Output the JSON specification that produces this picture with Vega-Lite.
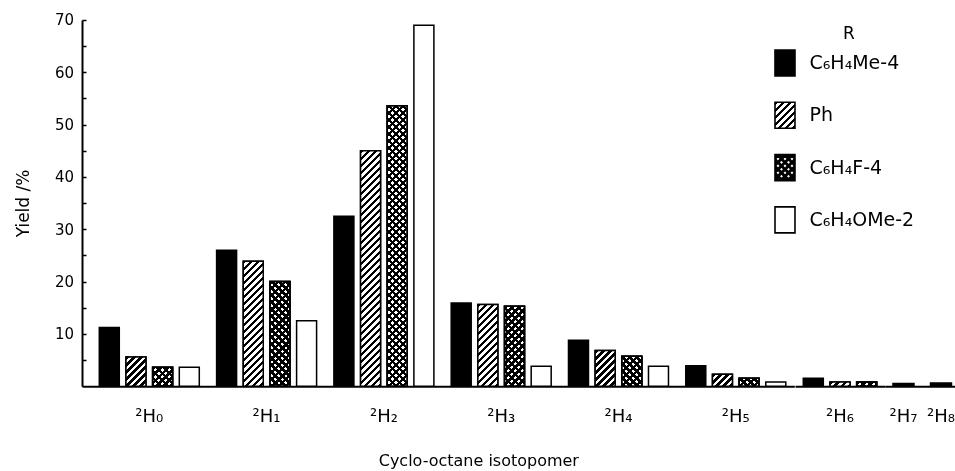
{
  "$schema": "https://vega.github.io/schema/vega-lite/v6.json",
  "autosize": {"type": "pad"},
  "padding": {"left": 14, "top": 12, "right": 0, "bottom": 0},
  "bounds": "flush",
  "spacing": 0,
  "background": "#ffffff",
  "params": [
    {"name": "hatch", "value": [
      {"offset":0,"color":"#000"},{"offset":0.0114,"color":"#000"},{"offset":0.0114,"color":"#fff"},{"offset":0.0227,"color":"#fff"},
      {"offset":0.0227,"color":"#000"},{"offset":0.0341,"color":"#000"},{"offset":0.0341,"color":"#fff"},{"offset":0.0455,"color":"#fff"},
      {"offset":0.0455,"color":"#000"},{"offset":0.0568,"color":"#000"},{"offset":0.0568,"color":"#fff"},{"offset":0.0682,"color":"#fff"},
      {"offset":0.0682,"color":"#000"},{"offset":0.0795,"color":"#000"},{"offset":0.0795,"color":"#fff"},{"offset":0.0909,"color":"#fff"},
      {"offset":0.0909,"color":"#000"},{"offset":0.1023,"color":"#000"},{"offset":0.1023,"color":"#fff"},{"offset":0.1136,"color":"#fff"},
      {"offset":0.1136,"color":"#000"},{"offset":0.125,"color":"#000"},{"offset":0.125,"color":"#fff"},{"offset":0.1364,"color":"#fff"},
      {"offset":0.1364,"color":"#000"},{"offset":0.1477,"color":"#000"},{"offset":0.1477,"color":"#fff"},{"offset":0.1591,"color":"#fff"},
      {"offset":0.1591,"color":"#000"},{"offset":0.1705,"color":"#000"},{"offset":0.1705,"color":"#fff"},{"offset":0.1818,"color":"#fff"},
      {"offset":0.1818,"color":"#000"},{"offset":0.1932,"color":"#000"},{"offset":0.1932,"color":"#fff"},{"offset":0.2045,"color":"#fff"},
      {"offset":0.2045,"color":"#000"},{"offset":0.2159,"color":"#000"},{"offset":0.2159,"color":"#fff"},{"offset":0.2273,"color":"#fff"},
      {"offset":0.2273,"color":"#000"},{"offset":0.2386,"color":"#000"},{"offset":0.2386,"color":"#fff"},{"offset":0.25,"color":"#fff"},
      {"offset":0.25,"color":"#000"},{"offset":0.2614,"color":"#000"},{"offset":0.2614,"color":"#fff"},{"offset":0.2727,"color":"#fff"},
      {"offset":0.2727,"color":"#000"},{"offset":0.2841,"color":"#000"},{"offset":0.2841,"color":"#fff"},{"offset":0.2955,"color":"#fff"},
      {"offset":0.2955,"color":"#000"},{"offset":0.3068,"color":"#000"},{"offset":0.3068,"color":"#fff"},{"offset":0.3182,"color":"#fff"},
      {"offset":0.3182,"color":"#000"},{"offset":0.3295,"color":"#000"},{"offset":0.3295,"color":"#fff"},{"offset":0.3409,"color":"#fff"},
      {"offset":0.3409,"color":"#000"},{"offset":0.3523,"color":"#000"},{"offset":0.3523,"color":"#fff"},{"offset":0.3636,"color":"#fff"},
      {"offset":0.3636,"color":"#000"},{"offset":0.375,"color":"#000"},{"offset":0.375,"color":"#fff"},{"offset":0.3864,"color":"#fff"},
      {"offset":0.3864,"color":"#000"},{"offset":0.3977,"color":"#000"},{"offset":0.3977,"color":"#fff"},{"offset":0.4091,"color":"#fff"},
      {"offset":0.4091,"color":"#000"},{"offset":0.4205,"color":"#000"},{"offset":0.4205,"color":"#fff"},{"offset":0.4318,"color":"#fff"},
      {"offset":0.4318,"color":"#000"},{"offset":0.4432,"color":"#000"},{"offset":0.4432,"color":"#fff"},{"offset":0.4545,"color":"#fff"},
      {"offset":0.4545,"color":"#000"},{"offset":0.4659,"color":"#000"},{"offset":0.4659,"color":"#fff"},{"offset":0.4773,"color":"#fff"},
      {"offset":0.4773,"color":"#000"},{"offset":0.4886,"color":"#000"},{"offset":0.4886,"color":"#fff"},{"offset":0.5,"color":"#fff"},
      {"offset":0.5,"color":"#000"},{"offset":0.5114,"color":"#000"},{"offset":0.5114,"color":"#fff"},{"offset":0.5227,"color":"#fff"},
      {"offset":0.5227,"color":"#000"},{"offset":0.5341,"color":"#000"},{"offset":0.5341,"color":"#fff"},{"offset":0.5455,"color":"#fff"},
      {"offset":0.5455,"color":"#000"},{"offset":0.5568,"color":"#000"},{"offset":0.5568,"color":"#fff"},{"offset":0.5682,"color":"#fff"},
      {"offset":0.5682,"color":"#000"},{"offset":0.5795,"color":"#000"},{"offset":0.5795,"color":"#fff"},{"offset":0.5909,"color":"#fff"},
      {"offset":0.5909,"color":"#000"},{"offset":0.6023,"color":"#000"},{"offset":0.6023,"color":"#fff"},{"offset":0.6136,"color":"#fff"},
      {"offset":0.6136,"color":"#000"},{"offset":0.625,"color":"#000"},{"offset":0.625,"color":"#fff"},{"offset":0.6364,"color":"#fff"},
      {"offset":0.6364,"color":"#000"},{"offset":0.6477,"color":"#000"},{"offset":0.6477,"color":"#fff"},{"offset":0.6591,"color":"#fff"},
      {"offset":0.6591,"color":"#000"},{"offset":0.6705,"color":"#000"},{"offset":0.6705,"color":"#fff"},{"offset":0.6818,"color":"#fff"},
      {"offset":0.6818,"color":"#000"},{"offset":0.6932,"color":"#000"},{"offset":0.6932,"color":"#fff"},{"offset":0.7045,"color":"#fff"},
      {"offset":0.7045,"color":"#000"},{"offset":0.7159,"color":"#000"},{"offset":0.7159,"color":"#fff"},{"offset":0.7273,"color":"#fff"},
      {"offset":0.7273,"color":"#000"},{"offset":0.7386,"color":"#000"},{"offset":0.7386,"color":"#fff"},{"offset":0.75,"color":"#fff"},
      {"offset":0.75,"color":"#000"},{"offset":0.7614,"color":"#000"},{"offset":0.7614,"color":"#fff"},{"offset":0.7727,"color":"#fff"},
      {"offset":0.7727,"color":"#000"},{"offset":0.7841,"color":"#000"},{"offset":0.7841,"color":"#fff"},{"offset":0.7955,"color":"#fff"},
      {"offset":0.7955,"color":"#000"},{"offset":0.8068,"color":"#000"},{"offset":0.8068,"color":"#fff"},{"offset":0.8182,"color":"#fff"},
      {"offset":0.8182,"color":"#000"},{"offset":0.8295,"color":"#000"},{"offset":0.8295,"color":"#fff"},{"offset":0.8409,"color":"#fff"},
      {"offset":0.8409,"color":"#000"},{"offset":0.8523,"color":"#000"},{"offset":0.8523,"color":"#fff"},{"offset":0.8636,"color":"#fff"},
      {"offset":0.8636,"color":"#000"},{"offset":0.875,"color":"#000"},{"offset":0.875,"color":"#fff"},{"offset":0.8864,"color":"#fff"},
      {"offset":0.8864,"color":"#000"},{"offset":0.8977,"color":"#000"},{"offset":0.8977,"color":"#fff"},{"offset":0.9091,"color":"#fff"},
      {"offset":0.9091,"color":"#000"},{"offset":0.9205,"color":"#000"},{"offset":0.9205,"color":"#fff"},{"offset":0.9318,"color":"#fff"},
      {"offset":0.9318,"color":"#000"},{"offset":0.9432,"color":"#000"},{"offset":0.9432,"color":"#fff"},{"offset":0.9545,"color":"#fff"},
      {"offset":0.9545,"color":"#000"},{"offset":0.9659,"color":"#000"},{"offset":0.9659,"color":"#fff"},{"offset":0.9773,"color":"#fff"},
      {"offset":0.9773,"color":"#000"},{"offset":0.9886,"color":"#000"},{"offset":0.9886,"color":"#fff"},{"offset":1,"color":"#fff"}
    ]}
  ],
  "data": {"values": [
    {"H":"²H₀","R":"C₆H₄Me-4","Yield":11.2},
    {"H":"²H₀","R":"Ph","Yield":5.6},
    {"H":"²H₀","R":"C₆H₄F-4","Yield":3.6},
    {"H":"²H₀","R":"C₆H₄OMe-2","Yield":3.6},
    {"H":"²H₁","R":"C₆H₄Me-4","Yield":26.0},
    {"H":"²H₁","R":"Ph","Yield":23.9},
    {"H":"²H₁","R":"C₆H₄F-4","Yield":20.0},
    {"H":"²H₁","R":"C₆H₄OMe-2","Yield":12.5},
    {"H":"²H₂","R":"C₆H₄Me-4","Yield":32.5},
    {"H":"²H₂","R":"Ph","Yield":45.0},
    {"H":"²H₂","R":"C₆H₄F-4","Yield":53.6},
    {"H":"²H₂","R":"C₆H₄OMe-2","Yield":69.0},
    {"H":"²H₃","R":"C₆H₄Me-4","Yield":15.9},
    {"H":"²H₃","R":"Ph","Yield":15.6},
    {"H":"²H₃","R":"C₆H₄F-4","Yield":15.3},
    {"H":"²H₃","R":"C₆H₄OMe-2","Yield":3.8},
    {"H":"²H₄","R":"C₆H₄Me-4","Yield":8.8},
    {"H":"²H₄","R":"Ph","Yield":6.8},
    {"H":"²H₄","R":"C₆H₄F-4","Yield":5.7},
    {"H":"²H₄","R":"C₆H₄OMe-2","Yield":3.8},
    {"H":"²H₅","R":"C₆H₄Me-4","Yield":3.9},
    {"H":"²H₅","R":"Ph","Yield":2.3},
    {"H":"²H₅","R":"C₆H₄F-4","Yield":1.5},
    {"H":"²H₅","R":"C₆H₄OMe-2","Yield":0.8},
    {"H":"²H₆","R":"C₆H₄Me-4","Yield":1.5},
    {"H":"²H₆","R":"Ph","Yield":0.8},
    {"H":"²H₆","R":"C₆H₄F-4","Yield":0.8},
    {"H":"²H₇","R":"C₆H₄Me-4","Yield":0.5},
    {"H":"²H₈","R":"C₆H₄Me-4","Yield":0.6}
  ]},
  "hconcat": [
    {
      "width": 712.3,
      "height": 366.2,
      "transform": [{"filter": {"field": "H", "oneOf": ["²H₀","²H₁","²H₂","²H₃","²H₄","²H₅"]}}],
      "encoding": {
        "x": {"field": "H", "type": "nominal",
          "scale": {"domain": ["²H₀","²H₁","²H₂","²H₃","²H₄","²H₅"], "paddingInner": 0.1475, "paddingOuter": 0.11, "align": 0.67},
          "axis": {"title": "Cyclo-octane isotopomer", "titleX": 396.3, "titleY": 79.8, "titleAlign": "center", "titleBaseline": "alphabetic", "titleFontSize": 16}},
        "xOffset": {"field": "R", "type": "nominal",
          "scale": {"domain": ["C₆H₄Me-4","Ph","C₆H₄F-4","C₆H₄OMe-2"], "paddingInner": 0.25, "paddingOuter": 0}},
        "y": {"field": "Yield", "type": "quantitative",
          "scale": {"domain": [0, 70], "nice": false, "zero": true},
          "axis": {"title": "Yield /%", "titleX": -53.7, "titleY": 183, "titleAlign": "center", "titleBaseline": "alphabetic", "titleFontSize": 17,
            "values": [5,10,15,20,25,30,35,40,45,50,55,60,65,70],
            "labelExpr": "datum.value % 10 === 0 ? datum.label : ''",
            "tickSize": -4, "tickWidth": 1.5, "labelPadding": 12.4, "labelFontSize": 15}}
      },
      "layer": [
        {
          "mark": {"type": "bar", "stroke": "#000", "strokeWidth": 1.5,
            "fill": {"expr": "datum.R === 'C₆H₄Me-4' ? '#000' : '#fff'"}}
        },
        {
          "transform": [{"filter": "datum.R === 'Ph' || datum.R === 'C₆H₄F-4'"}],
          "mark": {"type": "bar", "stroke": "#000", "strokeWidth": 1.5,
            "fill": {"expr": "{gradient: 'linear', x1: 0, y1: 0, x2: 6160 / (400 + pow(datum.Yield * 5.231, 2)), y2: 308 * datum.Yield * 5.231 / (400 + pow(datum.Yield * 5.231, 2)), stops: hatch}"}}
        },
        {
          "transform": [{"filter": "datum.R === 'C₆H₄F-4'"}],
          "mark": {"type": "bar", "stroke": "#000", "strokeWidth": 1.5, "blend": "multiply",
            "fill": {"expr": "{gradient: 'linear', x1: 0, y1: 1, x2: 6160 / (400 + pow(datum.Yield * 5.231, 2)), y2: 1 - 308 * datum.Yield * 5.231 / (400 + pow(datum.Yield * 5.231, 2)), stops: hatch}"}}
        },
        {
          "mark": {"type": "point", "opacity": 0, "filled": true, "strokeWidth": 1.6, "size": 676},
          "encoding": {
            "fill": {"field": "R", "type": "nominal",
              "scale": {"domain": ["C₆H₄Me-4","Ph","C₆H₄F-4","C₆H₄OMe-2"],
                "range": ["#000", {"expr": "{gradient: 'linear', x1: 0, y1: 0, x2: 5.725, y2: 7.442, stops: hatch}"}, "#000", "#fff"]},
              "legend": {
                "orient": "none", "legendX": 689, "legendY": 6, "padding": 0,
                "title": "R", "titleFont": "DejaVu Sans", "titleFontSize": 17, "titleFontWeight": "normal", "titleColor": "#000", "titleAnchor": "middle", "titleAlign": "left", "titlePadding": 6,
                "labelFont": "DejaVu Sans", "labelFontSize": 19, "labelColor": "#000", "labelOffset": 10.5, "labelLimit": 300,
                "symbolSize": 676, "symbolStrokeWidth": 1.6, "symbolOpacity": 1,
                "rowPadding": 18.3
              }},
            "stroke": {"field": "R", "type": "nominal",
              "scale": {"domain": ["C₆H₄Me-4","Ph","C₆H₄F-4","C₆H₄OMe-2"], "range": ["#000","#000","#000","#000"]},
              "legend": {
                "orient": "none", "legendX": 689, "legendY": 6, "padding": 0,
                "title": "R", "titleFont": "DejaVu Sans", "titleFontSize": 17, "titleFontWeight": "normal", "titleColor": "#000", "titleAnchor": "middle", "titleAlign": "left", "titlePadding": 6,
                "labelFont": "DejaVu Sans", "labelFontSize": 19, "labelColor": "#000", "labelOffset": 10.5, "labelLimit": 300,
                "symbolSize": 676, "symbolStrokeWidth": 1.6, "symbolOpacity": 1,
                "rowPadding": 18.3
              }},
            "shape": {"field": "R", "type": "nominal",
              "scale": {"domain": ["C₆H₄Me-4","Ph","C₆H₄F-4","C₆H₄OMe-2"],
                "range": [
                  "M-0.769,-1H0.769V1H-0.769Z",
                  "M-0.769,-1H0.769V1H-0.769Z",
                  "M-0.769,-1H0.769V1H-0.769Z M-0.538,-0.872L-0.738,-0.672L-0.538,-0.472L-0.338,-0.672Z M0,-0.872L-0.2,-0.672L0,-0.472L0.2,-0.672Z M0.538,-0.872L0.338,-0.672L0.538,-0.472L0.738,-0.672Z M-0.269,-0.603L-0.469,-0.403L-0.269,-0.203L-0.069,-0.403Z M0.269,-0.603L0.069,-0.403L0.269,-0.203L0.469,-0.403Z M-0.538,-0.334L-0.738,-0.134L-0.538,0.066L-0.338,-0.134Z M0,-0.334L-0.2,-0.134L0,0.066L0.2,-0.134Z M0.538,-0.334L0.338,-0.134L0.538,0.066L0.738,-0.134Z M-0.269,-0.066L-0.469,0.134L-0.269,0.334L-0.069,0.134Z M0.269,-0.066L0.069,0.134L0.269,0.334L0.469,0.134Z M-0.538,0.203L-0.738,0.403L-0.538,0.603L-0.338,0.403Z M0,0.203L-0.2,0.403L0,0.603L0.2,0.403Z M0.538,0.203L0.338,0.403L0.538,0.603L0.738,0.403Z M-0.269,0.472L-0.469,0.672L-0.269,0.872L-0.069,0.672Z M0.269,0.472L0.069,0.672L0.269,0.872L0.469,0.672Z",
                  "M-0.769,-1H0.769V1H-0.769Z"
                ]},
              "legend": {
                "orient": "none", "legendX": 689, "legendY": 6, "padding": 0,
                "title": "R", "titleFont": "DejaVu Sans", "titleFontSize": 17, "titleFontWeight": "normal", "titleColor": "#000", "titleAnchor": "middle", "titleAlign": "left", "titlePadding": 6,
                "labelFont": "DejaVu Sans", "labelFontSize": 19, "labelColor": "#000", "labelOffset": 10.5, "labelLimit": 300,
                "symbolSize": 676, "symbolStrokeWidth": 1.6, "symbolOpacity": 1,
                "rowPadding": 18.3
              }}
          }
        }
      ]
    },
    {
      "width": 90,
      "height": 366.2,
      "transform": [{"filter": {"field": "H", "equal": "²H₆"}}],
      "encoding": {
        "x": {"field": "H", "type": "nominal",
          "scale": {"domain": ["²H₆"], "paddingInner": 0, "paddingOuter": 0.113},
          "axis": {"title": null}},
        "xOffset": {"field": "R", "type": "nominal",
          "scale": {"domain": ["C₆H₄Me-4","Ph","C₆H₄F-4"], "paddingInner": 0.25, "paddingOuter": 0}},
        "y": {"field": "Yield", "type": "quantitative",
          "scale": {"domain": [0, 70], "nice": false}, "axis": null}
      },
      "layer": [
        {
          "mark": {"type": "bar", "stroke": "#000", "strokeWidth": 1.5,
            "fill": {"expr": "datum.R === 'C₆H₄Me-4' ? '#000' : '#fff'"}}
        },
        {
          "transform": [{"filter": "datum.R === 'Ph' || datum.R === 'C₆H₄F-4'"}],
          "mark": {"type": "bar", "stroke": "#000", "strokeWidth": 1.5,
            "fill": {"expr": "{gradient: 'linear', x1: 0, y1: 0, x2: 6160 / (400 + pow(datum.Yield * 5.231, 2)), y2: 308 * datum.Yield * 5.231 / (400 + pow(datum.Yield * 5.231, 2)), stops: hatch}"}}
        },
        {
          "transform": [{"filter": "datum.R === 'C₆H₄F-4'"}],
          "mark": {"type": "bar", "stroke": "#000", "strokeWidth": 1.5, "blend": "multiply",
            "fill": {"expr": "{gradient: 'linear', x1: 0, y1: 1, x2: 6160 / (400 + pow(datum.Yield * 5.231, 2)), y2: 1 - 308 * datum.Yield * 5.231 / (400 + pow(datum.Yield * 5.231, 2)), stops: hatch}"}}
        }
      ]
    },
    {
      "width": 71,
      "height": 366.2,
      "transform": [{"filter": {"field": "H", "oneOf": ["²H₇","²H₈"]}}],
      "mark": {"type": "bar", "stroke": "#000", "strokeWidth": 1.5, "fill": "#000"},
      "encoding": {
        "x": {"field": "H", "type": "nominal",
          "scale": {"domain": ["²H₇","²H₈"], "paddingInner": 0.44, "paddingOuter": 0.167, "align": 0.64},
          "axis": {"title": null}},
        "y": {"field": "Yield", "type": "quantitative",
          "scale": {"domain": [0, 70], "nice": false}, "axis": null}
      }
    }
  ],
  "resolve": {"scale": {"x": "independent", "xOffset": "independent", "y": "independent"}},
  "config": {
    "view": {"stroke": null},
    "font": "DejaVu Sans",
    "axis": {"domainColor": "#000", "domainWidth": 2, "tickColor": "#000", "labelColor": "#000", "titleColor": "#000",
      "labelFont": "DejaVu Sans", "titleFont": "DejaVu Sans", "titleFontWeight": "normal", "grid": false},
    "axisX": {"ticks": false, "labelFontSize": 18, "labelPadding": 21, "labelAngle": 0}
  }
}
